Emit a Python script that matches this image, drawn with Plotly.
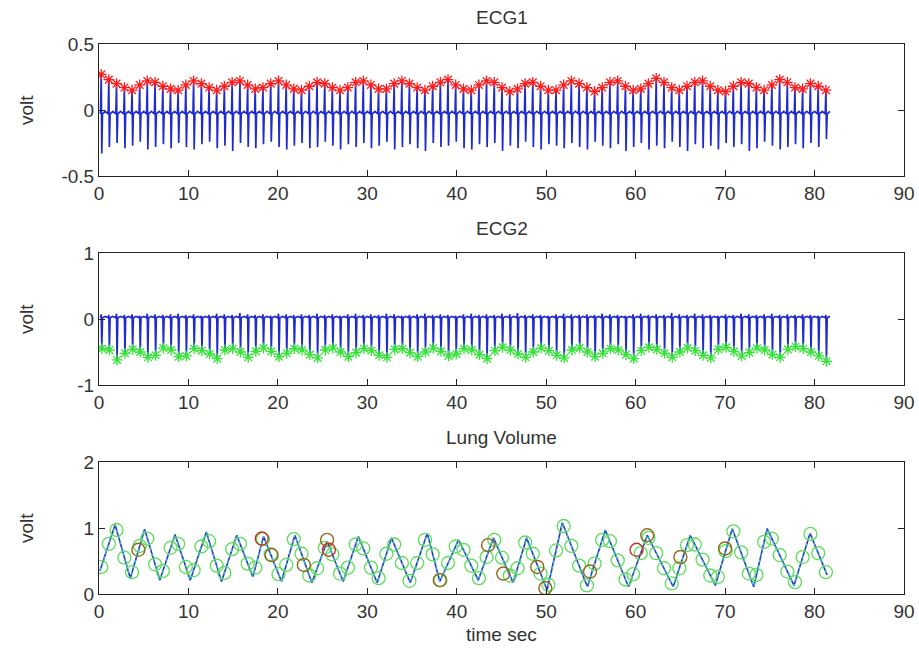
import plotly.graph_objects as go

# ---------------- data ----------------
beat_t = [0.25, 1.10, 1.96, 2.84, 3.70, 4.55, 5.40, 6.27, 7.14, 8.00,
          8.85, 9.71, 10.58, 11.45, 12.31, 13.16, 14.02, 14.89, 15.76, 16.62,
          17.47, 18.33, 19.20, 20.07, 20.93, 21.78, 22.64, 23.51, 24.38, 25.24,
          26.09, 26.95, 27.82, 28.69, 29.55, 30.40, 31.26, 32.13, 33.00, 33.86,
          34.71, 35.57, 36.44, 37.31, 38.17, 39.02, 39.88, 40.75, 41.62, 42.48,
          43.33, 44.19, 45.06, 45.93, 46.79, 47.64, 48.50, 49.37, 50.24, 51.10,
          51.95, 52.81, 53.68, 54.55, 55.41, 56.26, 57.12, 57.99, 58.86, 59.72,
          60.57, 61.43, 62.30, 63.17, 64.03, 64.88, 65.74, 66.61, 67.48, 68.34,
          69.19, 70.05, 70.92, 71.79, 72.65, 73.50, 74.36, 75.23, 76.10, 76.96,
          77.81, 78.67, 79.54, 80.41, 81.27]

ecg1_r = [0.27, 0.23, 0.20, 0.17, 0.15, 0.19, 0.22, 0.21, 0.18, 0.16,
          0.15, 0.19, 0.22, 0.20, 0.17, 0.15, 0.18, 0.21, 0.22, 0.19,
          0.16, 0.17, 0.20, 0.22, 0.19, 0.16, 0.15, 0.18, 0.21, 0.20,
          0.17, 0.15, 0.17, 0.21, 0.22, 0.19, 0.16, 0.16, 0.20, 0.22,
          0.20, 0.17, 0.15, 0.18, 0.21, 0.23, 0.19, 0.16, 0.15, 0.19,
          0.22, 0.21, 0.17, 0.14, 0.16, 0.20, 0.21, 0.18, 0.15, 0.15,
          0.19, 0.22, 0.20, 0.17, 0.14, 0.17, 0.21, 0.22, 0.18, 0.15,
          0.16, 0.20, 0.24, 0.21, 0.17, 0.15, 0.18, 0.21, 0.22, 0.18,
          0.15, 0.14, 0.18, 0.21, 0.20, 0.17, 0.15, 0.19, 0.23, 0.21,
          0.17, 0.16, 0.20, 0.18, 0.15]

ecg1_s = [-0.33, -0.28, -0.25, -0.29, -0.27, -0.24, -0.30, -0.28, -0.26, -0.29,
          -0.25, -0.28, -0.30, -0.26, -0.24, -0.29, -0.27, -0.31, -0.25, -0.28,
          -0.29, -0.26, -0.24, -0.28, -0.30, -0.27, -0.25, -0.29, -0.28, -0.24,
          -0.27, -0.30, -0.26, -0.28, -0.25, -0.29, -0.27, -0.24, -0.30, -0.28,
          -0.26, -0.29, -0.31, -0.25, -0.28, -0.27, -0.24, -0.29, -0.30, -0.26,
          -0.28, -0.25, -0.31, -0.27, -0.29, -0.24, -0.28, -0.30, -0.26, -0.27,
          -0.29, -0.25, -0.28, -0.30, -0.24, -0.27, -0.29, -0.26, -0.31, -0.28,
          -0.25, -0.30, -0.27, -0.29, -0.24, -0.28, -0.31, -0.26, -0.29, -0.27,
          -0.30, -0.25, -0.28, -0.26, -0.31, -0.29, -0.24, -0.27, -0.30, -0.28,
          -0.26, -0.29, -0.25, -0.28, -0.22]

ecg1_base = -0.03

ecg2_r = [0.07, 0.06, 0.08, 0.06, 0.07, 0.05, 0.08, 0.07, 0.06, 0.07,
          0.08, 0.06, 0.07, 0.05, 0.06, 0.08, 0.07, 0.06, 0.09, 0.07,
          0.06, 0.07, 0.05, 0.08, 0.07, 0.06, 0.07, 0.06, 0.08, 0.06,
          0.07, 0.05, 0.07, 0.08, 0.06, 0.07, 0.06, 0.08, 0.07, 0.05,
          0.06, 0.07, 0.08, 0.06, 0.07, 0.06, 0.05, 0.07, 0.08, 0.06,
          0.07, 0.06, 0.08, 0.07, 0.09, 0.06, 0.07, 0.06, 0.05, 0.07,
          0.08, 0.07, 0.06, 0.07, 0.06, 0.08, 0.07, 0.06, 0.05, 0.07,
          0.08, 0.06, 0.07, 0.06, 0.09, 0.07, 0.06, 0.08, 0.07, 0.06,
          0.05, 0.07, 0.06, 0.08, 0.07, 0.06, 0.07, 0.08, 0.06, 0.07,
          0.06, 0.07, 0.06, 0.05, 0.06]

ecg2_s = [-0.45, -0.47, -0.62, -0.52, -0.46, -0.50, -0.58, -0.55, -0.44, -0.47,
          -0.57, -0.56, -0.45, -0.48, -0.53, -0.60, -0.47, -0.45, -0.50, -0.58,
          -0.49, -0.44, -0.49, -0.57, -0.52, -0.45, -0.47, -0.54, -0.59, -0.47,
          -0.44, -0.50, -0.57, -0.51, -0.45, -0.48, -0.55, -0.58, -0.46, -0.45,
          -0.51, -0.57, -0.50, -0.44, -0.49, -0.56, -0.53, -0.45, -0.47, -0.54,
          -0.60, -0.48, -0.43, -0.47, -0.53, -0.58, -0.50, -0.44, -0.48, -0.55,
          -0.59, -0.47, -0.44, -0.50, -0.57, -0.52, -0.45, -0.47, -0.54, -0.60,
          -0.48, -0.43, -0.46, -0.52, -0.58, -0.50, -0.44, -0.48, -0.55, -0.59,
          -0.46, -0.43, -0.49, -0.56, -0.51, -0.44, -0.47, -0.54, -0.58, -0.46,
          -0.42, -0.45, -0.50, -0.56, -0.64]

ecg2_base = 0.02

# lung volume turning points (time, volt)
lung_t = [0.1, 1.8, 3.5, 5.1, 6.8, 8.5, 10.2, 12.0, 13.7, 15.4, 17.2, 18.4, 20.4,
          21.9, 23.8, 25.5, 27.3, 29.0, 31.1, 32.7, 34.8, 36.7, 38.1, 40.2, 42.4,
          44.1, 46.3, 47.8, 50.1, 51.8, 54.6, 56.6, 59.2, 61.3, 64.2, 66.1, 68.9,
          70.8, 73.2, 74.7, 77.7, 79.5, 81.4]
lung_v = [0.35, 1.05, 0.24, 0.98, 0.21, 0.90, 0.21, 0.94, 0.19, 0.89, 0.26, 0.87, 0.19,
          0.89, 0.17, 0.80, 0.19, 0.87, 0.17, 0.85, 0.17, 0.92, 0.19, 0.82, 0.21,
          0.85, 0.17, 0.85, 0.06, 1.08, 0.11, 0.97, 0.11, 0.89, 0.11, 0.89, 0.13,
          0.99, 0.11, 0.99, 0.13, 0.92, 0.29]

# lung volume at each heart beat (green circles)
lung_beat_v = [0.41, 0.76, 0.97, 0.55, 0.33, 0.73, 0.84, 0.45, 0.35, 0.70,
               0.76, 0.41, 0.36, 0.72, 0.80, 0.43, 0.32, 0.68, 0.76, 0.46,
               0.40, 0.83, 0.60, 0.30, 0.44, 0.83, 0.61, 0.28, 0.39, 0.70,
               0.60, 0.31, 0.40, 0.75, 0.69, 0.40, 0.24, 0.61, 0.75, 0.47,
               0.20, 0.47, 0.82, 0.60, 0.21, 0.47, 0.72, 0.67, 0.43, 0.24,
               0.56, 0.82, 0.55, 0.28, 0.39, 0.78, 0.61, 0.31, 0.14, 0.66,
               1.03, 0.73, 0.43, 0.13, 0.46, 0.82, 0.80, 0.51, 0.22, 0.30,
               0.62, 0.85, 0.62, 0.39, 0.16, 0.39, 0.74, 0.75, 0.52, 0.28,
               0.26, 0.65, 0.95, 0.63, 0.31, 0.29, 0.79, 0.84, 0.59, 0.34,
               0.18, 0.56, 0.91, 0.62, 0.33]

# special events on lung volume (dark / red circles)
event_t = [4.4, 19.3, 22.9, 25.5, 38.1, 43.5, 45.2, 49.0, 49.9, 54.9, 61.3, 65.0, 70.0]
event_v = [0.67, 0.59, 0.44, 0.82, 0.21, 0.74, 0.31, 0.41, 0.09, 0.34, 0.89, 0.56, 0.69]
red_event_t = [18.2, 25.7, 60.1]
red_event_v = [0.84, 0.67, 0.67]

x_ticks = [0, 10, 20, 30, 40, 50, 60, 70, 80, 90]
y1_ticks = [-0.5, 0, 0.5]
y1_labels = ["-0.5", "0", "0.5"]
y2_ticks = [-1, 0, 1]
y2_labels = ["-1", "0", "1"]
y3_ticks = [0, 1, 2]
y3_labels = ["0", "1", "2"]

# ---------------- build waveforms ----------------
e1x, e1y = [], []
for t, r, s in zip(beat_t, ecg1_r, ecg1_s):
    e1x += [t - 0.08, t, t + 0.06, t + 0.14, t + 0.45]
    e1y += [ecg1_base, r, s, ecg1_base, ecg1_base + 0.02]

e2x, e2y = [], []
for t, r, s in zip(beat_t, ecg2_r, ecg2_s):
    e2x += [t - 0.08, t, t + 0.06, t + 0.14, t + 0.45]
    e2y += [ecg2_base, r, s, ecg2_base, ecg2_base + 0.02]

BLUE = "#1f2bd0"
fig = go.Figure()

fig.add_trace(go.Scatter(x=e1x, y=e1y, mode="lines", line=dict(color=BLUE, width=1.7),
                         xaxis="x", yaxis="y", showlegend=False))
fig.add_trace(go.Scatter(x=beat_t, y=ecg1_r, mode="markers",
                         marker=dict(symbol="asterisk-open", size=9, color="#ff1a1a",
                                     line=dict(color="#ff1a1a", width=1.3)),
                         xaxis="x", yaxis="y", showlegend=False))

fig.add_trace(go.Scatter(x=e2x, y=e2y, mode="lines", line=dict(color=BLUE, width=1.7),
                         xaxis="x2", yaxis="y2", showlegend=False))
fig.add_trace(go.Scatter(x=[t + 0.06 for t in beat_t], y=ecg2_s, mode="markers",
                         marker=dict(symbol="asterisk-open", size=9, color="#33e633",
                                     line=dict(color="#33e633", width=1.3)),
                         xaxis="x2", yaxis="y2", showlegend=False))

fig.add_trace(go.Scatter(x=lung_t, y=lung_v, mode="lines", line=dict(color="#2a35b8", width=1.6),
                         xaxis="x3", yaxis="y3", showlegend=False))
fig.add_trace(go.Scatter(x=lung_t, y=lung_v, mode="lines",
                         line=dict(color="#30c4d8", width=1.2, dash="dot"),
                         xaxis="x3", yaxis="y3", showlegend=False))
fig.add_trace(go.Scatter(x=beat_t, y=lung_beat_v, mode="markers",
                         marker=dict(symbol="circle-open", size=13, color="#5ade5a",
                                     line=dict(color="#5ade5a", width=1.3)),
                         xaxis="x3", yaxis="y3", showlegend=False))
fig.add_trace(go.Scatter(x=event_t, y=event_v, mode="markers",
                         marker=dict(symbol="circle-open", size=13, color="#8f6a1e",
                                     line=dict(color="#8f6a1e", width=1.4)),
                         xaxis="x3", yaxis="y3", showlegend=False))
fig.add_trace(go.Scatter(x=red_event_t, y=red_event_v, mode="markers",
                         marker=dict(symbol="circle-open", size=13, color="#c8302a",
                                     line=dict(color="#c8302a", width=1.4)),
                         xaxis="x3", yaxis="y3", showlegend=False))

W, H = 919, 651
xdom = [99 / W, 904 / W]
doms = [[1 - 176 / H, 1 - 44 / H], [1 - 385 / H, 1 - 253 / H], [1 - 594 / H, 1 - 462 / H]]
FONT = "Liberation Sans, Arial, sans-serif"
TXT = "#333333"

def xax(anchor):
    return dict(domain=xdom, range=[0, 90], tickvals=x_ticks, anchor=anchor, automargin=False,
                showline=True, mirror="ticks", linecolor="#222", linewidth=1,
                ticks="inside", ticklen=6, tickcolor="#222", showgrid=False,
                zeroline=False, tickfont=dict(family=FONT, size=19, color=TXT))

def yax(anchor, dom, rng, tv, tt):
    return dict(domain=dom, range=rng, tickvals=tv, ticktext=tt, anchor=anchor, automargin=False,
                showline=True, mirror="ticks", linecolor="#222", linewidth=1,
                ticks="inside", ticklen=6, tickcolor="#222", showgrid=False,
                zeroline=False, tickfont=dict(family=FONT, size=19, color=TXT))

fig.update_layout(
    width=W, height=H, margin=dict(l=0, r=0, t=0, b=0, autoexpand=False),
    paper_bgcolor="white", plot_bgcolor="white", showlegend=False,
    xaxis=xax("y"), yaxis=yax("x", doms[0], [-0.5, 0.5], y1_ticks, y1_labels),
    xaxis2=xax("y2"), yaxis2=yax("x2", doms[1], [-1, 1], y2_ticks, y2_labels),
    xaxis3=xax("y3"), yaxis3=yax("x3", doms[2], [0, 2], y3_ticks, y3_labels),
)

xc = (xdom[0] + xdom[1]) / 2
titles = ["ECG1", "ECG2", "Lung Volume"]
title_y = [18, 228, 437]
for ttl, ty in zip(titles, title_y):
    fig.add_annotation(text=ttl, x=xc, y=1 - ty / H, xref="paper", yref="paper",
                       xanchor="center", yanchor="middle", showarrow=False,
                       font=dict(family=FONT, size=19, color=TXT))

for d in doms:
    fig.add_annotation(text="volt", x=26 / W, y=(d[0] + d[1]) / 2, xref="paper", yref="paper",
                       xanchor="center", yanchor="middle", textangle=-90, showarrow=False,
                       font=dict(family=FONT, size=19, color=TXT))

fig.add_annotation(text="time sec", x=xc, y=1 - 634 / H, xref="paper", yref="paper",
                   xanchor="center", yanchor="middle", showarrow=False,
                   font=dict(family=FONT, size=19, color=TXT))

fig.write_html("out.html")
